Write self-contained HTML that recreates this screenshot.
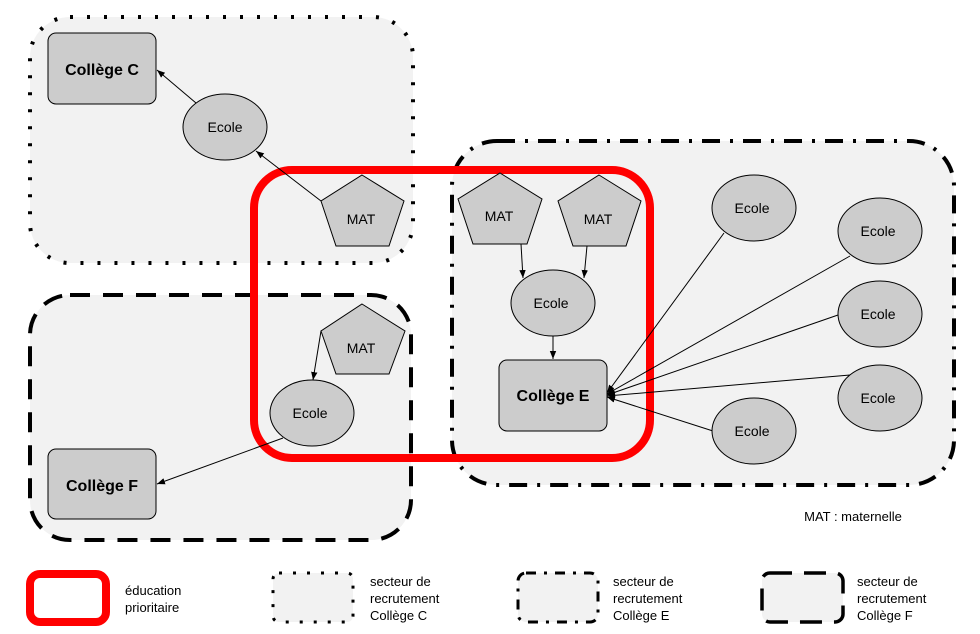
<!DOCTYPE html>
<html><head><meta charset="utf-8"><style>
html,body{margin:0;padding:0;background:#fff;}
svg{display:block;font-family:"Liberation Sans",Arial,sans-serif;}
</style></head><body>
<svg width="980" height="634" viewBox="0 0 980 634" xmlns="http://www.w3.org/2000/svg">
<defs>
<marker id="a" viewBox="0 0 10 10" refX="10" refY="5" markerWidth="8" markerHeight="8" orient="auto-start-reverse" markerUnits="userSpaceOnUse"><path d="M0,1 L10,5 L0,9 Z" fill="#000"/></marker>
</defs>
<rect width="980" height="634" fill="#fff"/>
<!-- sectors -->
<rect x="30" y="17" width="383" height="246" rx="40" fill="#f2f2f2" stroke="#000" stroke-width="4" stroke-dasharray="3 14" stroke-linecap="butt"/>
<rect x="30" y="295" width="381" height="245" rx="40" fill="#f2f2f2" stroke="#000" stroke-width="4" stroke-dasharray="20 13"/>
<rect x="452" y="141" width="502" height="344" rx="45" fill="#f2f2f2" stroke="#000" stroke-width="4" stroke-dasharray="18 10 3 10"/>
<!-- red -->
<rect x="254" y="170" width="396" height="288" rx="38" fill="none" stroke="#ff0000" stroke-width="8"/>
<!-- connectors -->
<g stroke="#000" stroke-width="1" fill="none" marker-end="url(#a)">
<line x1="196" y1="103" x2="157" y2="70"/>
<line x1="321" y1="201" x2="256" y2="151"/>
<line x1="321" y1="331" x2="313" y2="380"/>
<line x1="283" y1="438" x2="157" y2="484"/>
<line x1="521" y1="244" x2="523" y2="278"/>
<line x1="587" y1="246" x2="584" y2="278"/>
<line x1="553" y1="336" x2="553" y2="359"/>
<line x1="724" y1="233" x2="607" y2="393"/>
<line x1="850" y1="256" x2="607" y2="394"/>
<line x1="838" y1="315" x2="607" y2="395"/>
<line x1="850" y1="375" x2="607" y2="396"/>
<line x1="713" y1="431" x2="607" y2="397"/>
</g>
<!-- nodes -->
<g fill="#cccccc" stroke="#000" stroke-width="1">
<rect x="48" y="33" width="108" height="71" rx="8"/>
<rect x="48" y="449" width="108" height="70" rx="8"/>
<rect x="499" y="360" width="108" height="71" rx="8"/>
<ellipse cx="225" cy="127" rx="42" ry="33"/>
<ellipse cx="312" cy="413" rx="42" ry="33"/>
<ellipse cx="553" cy="303" rx="42" ry="33"/>
<ellipse cx="754" cy="208" rx="42" ry="33"/>
<ellipse cx="880" cy="231" rx="42" ry="33"/>
<ellipse cx="880" cy="314" rx="42" ry="33"/>
<ellipse cx="880" cy="398" rx="42" ry="33"/>
<ellipse cx="754" cy="431" rx="42" ry="33"/>
<polygon points="362,175 404,201 389,246 336,246 321,201"/>
<polygon points="362,304 405,331 389,374 336,374 321,331"/>
<polygon points="500,173 542,199 527,244 473,244 458,199"/>
<polygon points="599,175 641,201 626,246 573,246 558,201"/>
</g>
<g font-size="14" text-anchor="middle" fill="#000">
<text x="225" y="132">Ecole</text>
<text x="310" y="418">Ecole</text>
<text x="551" y="308">Ecole</text>
<text x="752" y="213">Ecole</text>
<text x="878" y="236">Ecole</text>
<text x="878" y="319">Ecole</text>
<text x="878" y="403">Ecole</text>
<text x="752" y="436">Ecole</text>
<text x="361" y="224">MAT</text>
<text x="361" y="353">MAT</text>
<text x="499" y="221">MAT</text>
<text x="598" y="224">MAT</text>
</g>
<g font-size="16" font-weight="bold" text-anchor="middle">
<text x="102" y="75">Collège C</text>
<text x="102" y="491">Collège F</text>
<text x="553" y="401">Collège E</text>
</g>
<text x="853" y="521" font-size="13" text-anchor="middle">MAT : maternelle</text>
<!-- legend -->
<rect x="30" y="574" width="76" height="48" rx="10" fill="#fff" stroke="#ff0000" stroke-width="8"/>
<g font-size="13">
<text x="125" y="595">éducation</text>
<text x="125" y="612">prioritaire</text>
<text x="370" y="586">secteur de</text>
<text x="370" y="603">recrutement</text>
<text x="370" y="620">Collège C</text>
<text x="613" y="586">secteur de</text>
<text x="613" y="603">recrutement</text>
<text x="613" y="620">Collège E</text>
<text x="857" y="586">secteur de</text>
<text x="857" y="603">recrutement</text>
<text x="857" y="620">Collège F</text>
</g>
<rect x="273" y="573" width="80" height="49" rx="6" fill="#f2f2f2" stroke="#000" stroke-width="3" stroke-dasharray="3 11"/>
<rect x="518" y="573" width="80" height="49" rx="8" fill="#f2f2f2" stroke="#000" stroke-width="3" stroke-dasharray="10 8 3 8"/>
<rect x="762" y="573" width="81" height="49" rx="8" fill="#f2f2f2" stroke="#000" stroke-width="3.5" stroke-dasharray="22 12"/>
</svg>
</body></html>
